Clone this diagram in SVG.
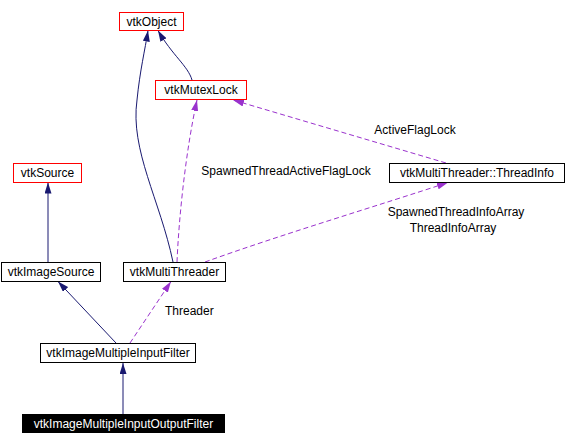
<svg xmlns="http://www.w3.org/2000/svg" width="565" height="445" viewBox="0 0 565 445">
<style>
text{font-family:"Liberation Sans",Arial,sans-serif;font-size:12px;fill:#000;text-anchor:middle}
.box{fill:#fff;stroke:#000;stroke-width:1}
.red{fill:#fff;stroke:#ff0000;stroke-width:1}
.inh{fill:none;stroke:#191970;stroke-width:1}
.use{fill:none;stroke:#9a32cd;stroke-width:1;stroke-dasharray:5,3}
.lbl{text-anchor:start}
</style>
<defs>
<marker id="ah" viewBox="0 0 11 7" refX="11" refY="3.5" markerWidth="11" markerHeight="7" markerUnits="userSpaceOnUse" orient="auto">
<path d="M0,0 L11,3.5 L0,7 z" fill="#191970"/>
</marker>
<marker id="ap" viewBox="0 0 11 7" refX="11" refY="3.5" markerWidth="11" markerHeight="7" markerUnits="userSpaceOnUse" orient="auto">
<path d="M0,0 L11,3.5 L0,7 z" fill="#9a32cd"/>
</marker>
</defs>
<g id="edges">
<path class="inh" d="M48,262 L48,182.5" marker-end="url(#ah)"/>
<path class="inh" d="M192,80 C188,66 172,55 158,30.5" marker-end="url(#ah)"/>
<path class="inh" d="M173,262 C160,200 130,150 137,100 C140,70 145,50 148,30.5" marker-end="url(#ah)"/>
<path class="use" d="M177,262 C179,215 186,150 197,100" marker-end="url(#ap)"/>
<path class="use" d="M446,163 L233,100" marker-end="url(#ap)"/>
<path class="use" d="M205,262 C280,235 380,205 448,182.5" marker-end="url(#ap)"/>
<path class="inh" d="M116,343 L58,281.5" marker-end="url(#ah)"/>
<path class="use" d="M130,343 L171,281.5" marker-end="url(#ap)"/>
<path class="inh" d="M123,414 L123,363" marker-end="url(#ah)"/>
<text class="lbl" x="165" y="315">Threader</text>
<text x="415" y="134">ActiveFlagLock</text>
<text x="286" y="175">SpawnedThreadActiveFlagLock</text>
<text x="456" y="216">SpawnedThreadInfoArray</text>
<text x="453" y="232">ThreadInfoArray</text>
</g>
<g id="vtkObject"><rect class="red" x="119.5" y="12.5" width="64" height="18"/><text x="151.5" y="25.5">vtkObject</text></g>
<g id="vtkMutexLock"><rect class="red" x="155.5" y="80.5" width="91" height="19"/><text x="201" y="94">vtkMutexLock</text></g>
<g id="vtkSource"><rect class="red" x="13.5" y="163.5" width="68" height="19"/><text x="47.5" y="177">vtkSource</text></g>
<g id="vtkImageSource"><rect class="box" x="1.5" y="262.5" width="99" height="19"/><text x="51" y="276">vtkImageSource</text></g>
<g id="vtkMultiThreader"><rect class="box" x="123.5" y="262.5" width="102" height="19"/><text x="174.5" y="276">vtkMultiThreader</text></g>
<g id="ThreadInfo"><rect class="box" x="389.5" y="163.5" width="175" height="19"/><text x="477" y="177">vtkMultiThreader::ThreadInfo</text></g>
<g id="vtkImageMultipleInputFilter"><rect class="box" x="40.5" y="343.5" width="155" height="19"/><text x="118" y="357">vtkImageMultipleInputFilter</text></g>
<g id="vtkImageMultipleInputOutputFilter"><rect x="22" y="414" width="203" height="19" fill="#000"/><text x="123.5" y="428" style="fill:#fff">vtkImageMultipleInputOutputFilter</text></g>
</svg>
